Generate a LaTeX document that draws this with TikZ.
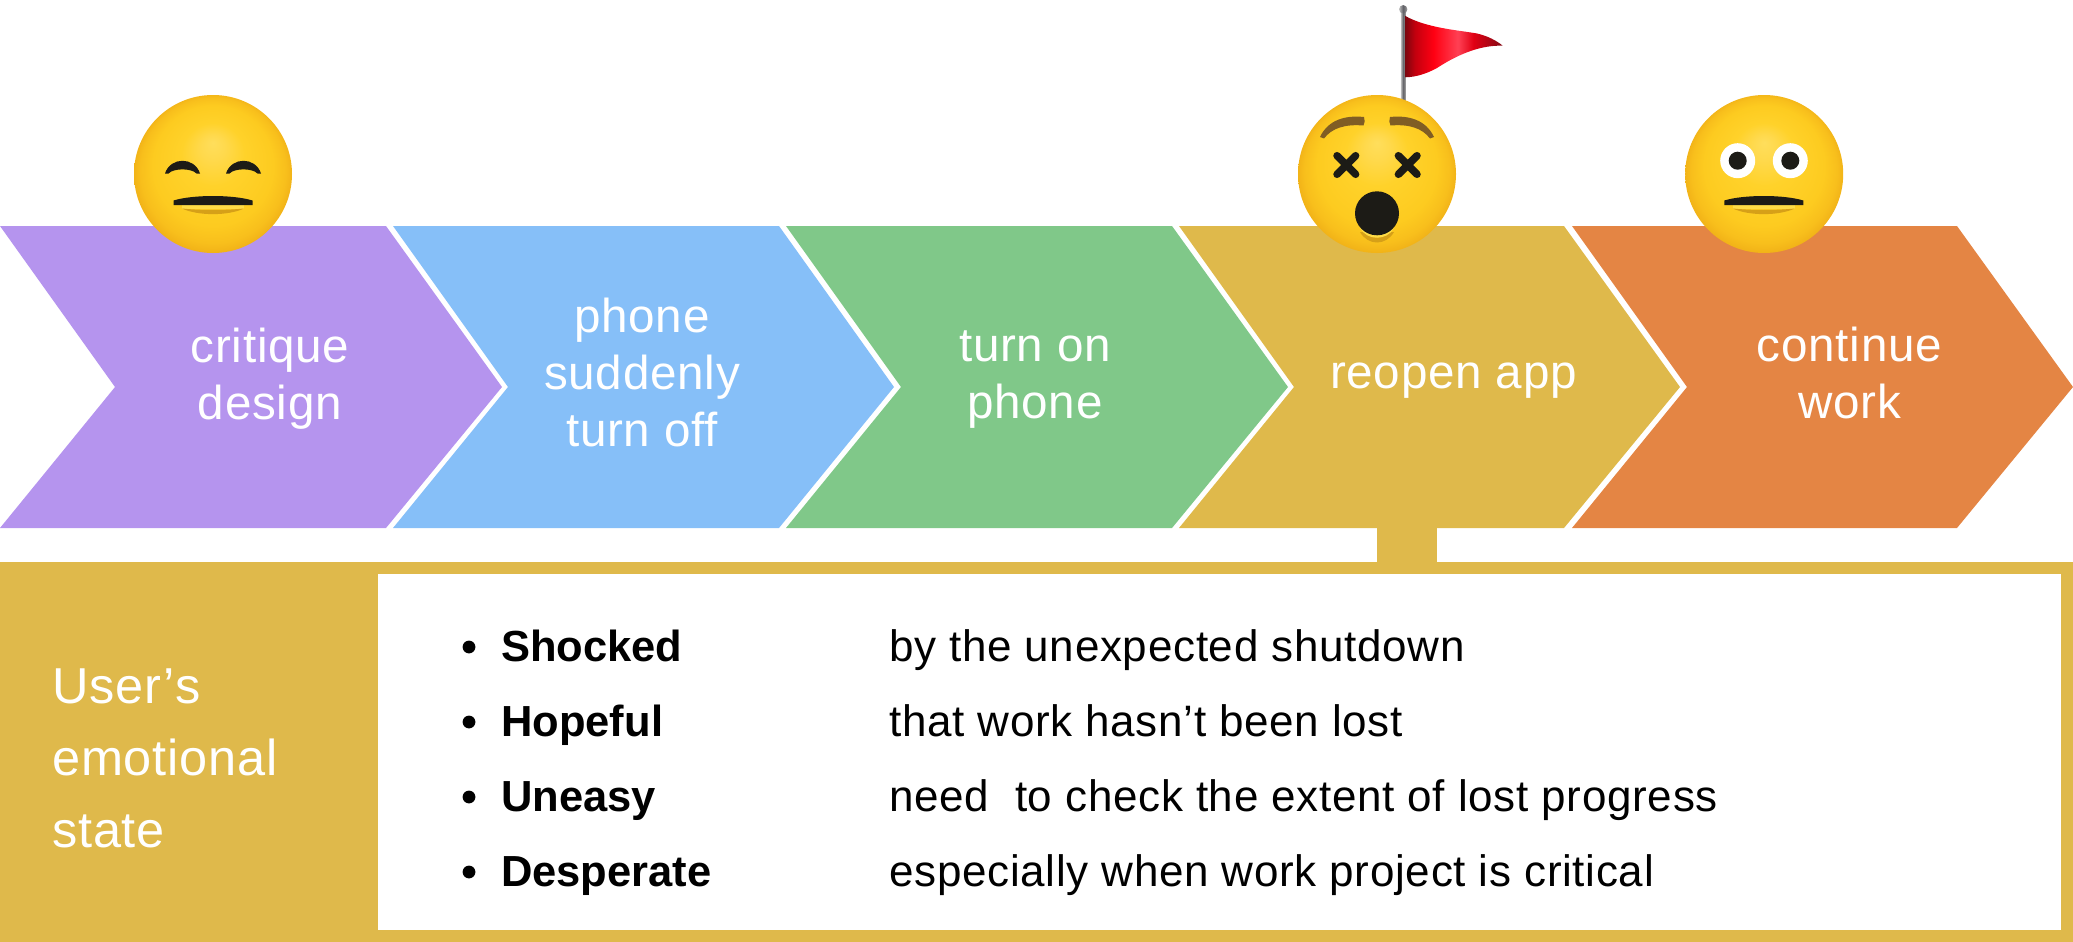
\documentclass[tikz,border=0pt]{standalone}
\usepackage{fontspec}
\setmainfont{Liberation Sans}
\newfontfamily\spaced[LetterSpace=1.6]{Liberation Sans}
\definecolor{cpurple}{RGB}{181,148,238}
\definecolor{cblue}{RGB}{134,191,248}
\definecolor{cgreen}{RGB}{128,200,137}
\definecolor{cgold}{RGB}{223,185,75}
\definecolor{corange}{RGB}{228,133,68}
\definecolor{ink}{RGB}{28,27,22}
\definecolor{brow}{RGB}{128,93,36}
\definecolor{fa}{RGB}{255,222,92}
\definecolor{fb}{RGB}{255,217,76}
\definecolor{fc}{RGB}{255,210,42}
\definecolor{fd}{RGB}{253,203,32}
\definecolor{fe}{RGB}{248,191,28}
\definecolor{ff}{RGB}{239,174,22}
\definecolor{lipdark}{RGB}{214,160,24}
\definecolor{liplight}{RGB}{255,220,70}
\definecolor{fla}{RGB}{125,6,14}
\definecolor{flb}{RGB}{195,0,14}
\definecolor{flc}{RGB}{255,0,18}
\definecolor{fld}{RGB}{255,64,84}
\definecolor{fle}{RGB}{225,0,20}
\definecolor{flf}{RGB}{130,10,20}
\definecolor{pa}{RGB}{190,190,190}
\definecolor{pb}{RGB}{95,95,100}
\definecolor{pc}{RGB}{165,165,165}
\pgfdeclareradialshading{faceshade}{\pgfpoint{0bp}{10bp}}{%
  color(0bp)=(fa);
  color(4bp)=(fb);
  color(10bp)=(fc);
  color(19bp)=(fd);
  color(23bp)=(fe);
  color(26bp)=(ff)}
\pgfdeclarehorizontalshading{flagshade}{100bp}{%
  color(0bp)=(fla);
  color(25bp)=(fla);
  color(30bp)=(flb);
  color(39.5bp)=(flc);
  color(52bp)=(fld);
  color(60bp)=(fle);
  color(75bp)=(flf);
  color(100bp)=(flf)}
\pgfdeclarehorizontalshading{poleshade}{100bp}{%
  color(0bp)=(pa);
  color(25bp)=(pa);
  color(50bp)=(pb);
  color(75bp)=(pc);
  color(100bp)=(pc)}
\tikzset{
  x=1pt,y=-1pt,
  chevron/.style={draw=none},
  steplabel/.style={text=white,align=center,inner sep=0pt,font=\fontsize{47.6}{57}\selectfont\spaced},
  sidelabel/.style={text=white,anchor=base west,inner sep=0pt,font=\fontsize{50.5}{60}\selectfont\spaced},
  boldterm/.style={text=black,anchor=base west,inner sep=0pt,font=\fontsize{43.5}{52}\selectfont\bfseries},
  termnote/.style={text=black,anchor=base west,inner sep=0pt,font=\fontsize{44}{52}\selectfont\spaced},
  listdot/.style={circle,fill=black,draw=none,minimum size=12.8pt,inner sep=0pt},
  facedisc/.style={shading=faceshade},
  flatmouth/.pic={
    \fill[liplight] (-31,31) -- (31,31) -- (31,35) -- (-31,35) -- cycle;
    \fill[lipdark] (-31,34.5) .. controls (-12,36.5) and (12,36.5) .. (31,34.5) .. controls (15,42) and (-15,42) .. cycle;
    \fill[ink] (-39.5,26.5) -- (-39.5,31) -- (39.5,31) -- (39.5,26.5) .. controls (20,20.5) and (-20,20.5) .. cycle;
  },
  smileye/.pic={
    \fill[ink] (-17.5,0) .. controls (-12,-17) and (12,-17) .. (17.5,0) -- (14,0) .. controls (9,-5.5) and (-9,-5.5) .. (-14,0) -- cycle;
  },
  crosseye/.pic={
    \draw[ink,line width=7.5pt,line cap=round] (-9.3,-9.3) -- (9.3,9.3) (-9.3,9.3) -- (9.3,-9.3);
  },
  roundeye/.pic={
    \fill[white] (0,0) circle[radius=17.5];
    \fill[ink] (0,0) circle[radius=9];
  }
}
\begin{document}
\begin{tikzpicture}
\useasboundingbox (0,0) rectangle (2073,942);
% chevrons
\fill[cpurple,chevron] (0,226) -- (386,226) -- (502,387) -- (386,528) -- (0,528) -- (115,387) -- cycle;
\fill[cblue,chevron] (393,226) -- (779,226) -- (894,387) -- (779,528) -- (393,528) -- (508,387) -- cycle;
\fill[cgreen,chevron] (786,226) -- (1172,226) -- (1288,387) -- (1172,528) -- (786,528) -- (901,387) -- cycle;
\fill[cgold,chevron] (1179,226) -- (1564,226) -- (1680,387) -- (1564,528) -- (1179,528) -- (1294,387) -- cycle;
\fill[corange,chevron] (1572,226) -- (1957,226) -- (2073,387) -- (1957,528) -- (1572,528) -- (1687,387) -- cycle;
% panel
\fill[cgold] (1377,527) rectangle (1437,562);
\fill[cgold] (0,562) rectangle (2073,942);
\fill[white] (378,574) rectangle (2061,930);
% step labels
\node[steplabel] (critique) at (270,378.5) {critique\\design};
\node[steplabel] (phone) at (642,372.5) {phone\\suddenly\\turn off};
\node[steplabel] (turnon) at (1035,380) {turn on\\phone};
\node[steplabel] (reopen) at (1453.5,381) {reopen app};
\node[steplabel] (continue) at (1849.5,373) {continue\\work};
% side label
\node[sidelabel] (user) at (52,703) {User’s};
\node[sidelabel] (emotional) at (52,775) {emotional};
\node[sidelabel] (state) at (52,847) {state};
% list
\foreach \yy/\nm/\term/\note in {
  661/a/Shocked/{by the unexpected shutdown},
  736/b/Hopeful/{that work hasn’t been lost},
  811/c/Uneasy/{need\ \ to check the extent of lost progress},
  886/d/Desperate/{especially when work project is critical}}{
  \node[listdot] (dot\nm) at (469,\yy-14) {};
  \node[boldterm] (term\nm) at (501,\yy) {\term};
  \node[termnote] (note\nm) at (889,\yy) {\note};
}
% face 1
\shade[facedisc] (213,174) circle[radius=79];
\path (182.5,173.5) pic {smileye} (243.5,173.5) pic {smileye} (213,174) pic {flatmouth};
% flag
\shade[shading=poleshade] (1400.8,10) rectangle (1405.6,105);
\shade[shading=poleshade] (1403.2,9.3) circle[radius=4.2];
\shade[shading=flagshade] (1405.3,16) .. controls (1427,28) and (1457,30) .. (1477,33.5) .. controls (1488,36) and (1497,41) .. (1502.7,45.7) .. controls (1482,45) and (1460,53) .. (1437,68) .. controls (1426,74) and (1416,77) .. (1405.3,77.3) -- cycle;
% face 2
\shade[facedisc] (1377,174) circle[radius=79];
\fill[brow] (1320,137) .. controls (1328,120) and (1345,115) .. (1364,117) .. controls (1365,120) and (1365,123) .. (1363.5,125.5) .. controls (1345,124) and (1332,128) .. (1324,138.5) -- cycle;
\fill[brow] (1434,137) .. controls (1426,120) and (1409,115) .. (1390,117) .. controls (1389,120) and (1389,123) .. (1390.5,125.5) .. controls (1409,124) and (1422,128) .. (1430,138.5) -- cycle;
\path (1346.3,165) pic {crosseye} (1407.7,165) pic {crosseye};
\fill[lipdark] (1360,232) .. controls (1368,246) and (1386,246) .. (1394,232) -- cycle;
\fill[liplight] (1360,228) .. controls (1367,241) and (1387,241) .. (1394,228) -- cycle;
\fill[ink] (1377,213.3) circle[radius=22];
% face 3
\shade[facedisc] (1764.2,174) circle[radius=79];
\path (1737.7,160.7) pic {roundeye} (1790.3,160.7) pic {roundeye} (1763.8,174) pic {flatmouth};
\end{tikzpicture}
\end{document}
